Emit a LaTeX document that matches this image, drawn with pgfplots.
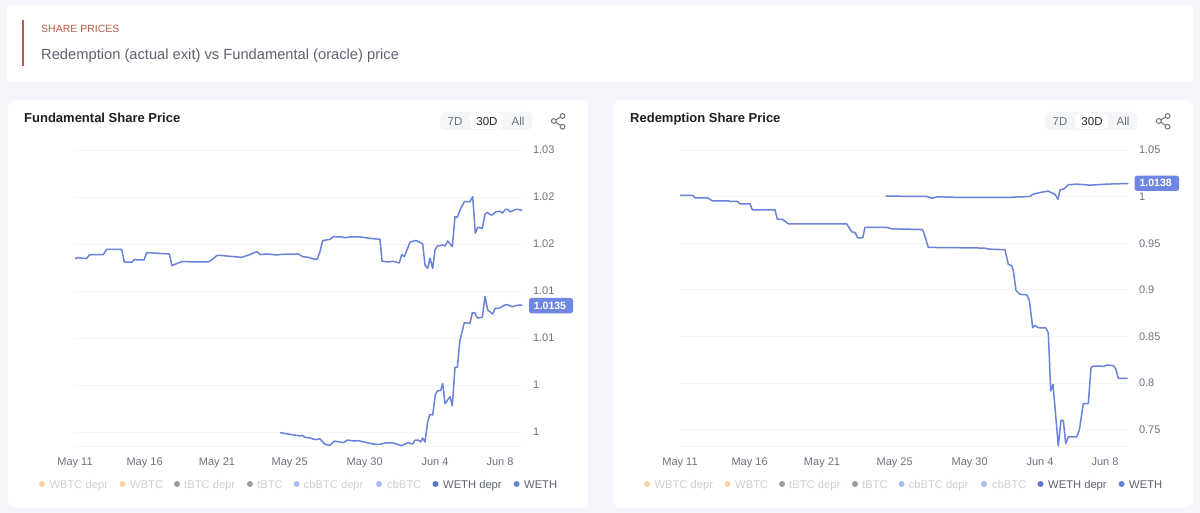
\documentclass[border=0pt]{standalone}
\usepackage{pgfplots}
\pgfplotsset{compat=1.18}
\usepackage{fontspec}
\setmainfont{Liberation Sans}
\definecolor{pagebg}{HTML}{F4F6FB}
\definecolor{gridc}{HTML}{F5F6F9}
\definecolor{linec}{HTML}{6A82DA}
\definecolor{tagc}{HTML}{6F87E2}
\definecolor{tickc}{HTML}{6E7280}
\definecolor{fadec}{HTML}{CDCFD4}
\definecolor{activec}{HTML}{5E6370}
\definecolor{redc}{HTML}{BC5A45}
\definecolor{pillc}{HTML}{F3F5F9}
\newcommand{\fs}[1]{\fontsize{#1}{#1}\selectfont}
\pgfplotstableread{
x y
75 1.01844
78.3 1.01855
83.3 1.01848
86.7 1.01848
89.3 1.01883
93.3 1.01887
103.3 1.01887
106.7 1.01943
121.7 1.01943
124.3 1.01809
131.7 1.01805
134 1.01833
144 1.01830
146.7 1.01908
169.3 1.01894
172 1.01770
176.7 1.01791
181.7 1.01812
208.3 1.01809
213.3 1.01844
216.7 1.01876
220 1.01879
241.7 1.01858
250 1.01887
255 1.01911
257.3 1.01918
260 1.01887
266.7 1.01894
276.7 1.01883
281.7 1.01890
298.3 1.01894
302.7 1.01865
308.3 1.01858
315 1.01837
317.3 1.01840
320 1.01919
322.7 1.02036
330 1.02050
333.3 1.02078
341.7 1.02075
345 1.02067
350 1.02075
360 1.02075
370 1.02060
380 1.02050
382 1.01816
388.3 1.01809
393.3 1.01816
399.3 1.01798
401.7 1.01887
404.3 1.01865
410 1.02018
415 1.02036
417.3 1.02032
422.7 1.02000
425 1.01777
427.7 1.01741
430 1.01848
432.7 1.01741
435 1.01936
437.3 1.01979
443.3 1.01989
445 1.01979
447.7 1.02032
452.3 1.01972
455 1.02291
457.3 1.02284
460 1.02362
464.3 1.02450
470 1.02450
472.7 1.02504
475.3 1.02114
477.7 1.02177
482.3 1.02167
485 1.02319
487.7 1.02337
490 1.02312
492.3 1.02309
496 1.02344
500 1.02348
502.3 1.02330
505.7 1.02369
507.7 1.02369
510 1.02341
515 1.02365
518.3 1.02369
522.3 1.02355
}\fundDepr
\pgfplotstableread{
x y
280 0.99993
290 0.99975
300 0.99958
302.3 0.99965
305 0.99943
310 0.99936
315 0.99919
320 0.99926
325 0.99869
330 0.99858
334.3 0.99904
343.3 0.99887
347.7 0.99915
353.3 0.99904
358.3 0.99908
366.7 0.99887
375 0.99869
380 0.99869
385 0.99883
393.3 0.99883
401.7 0.99855
408.3 0.99887
412.7 0.99872
415 0.99912
418.3 0.99915
420.7 0.99894
422.7 0.99936
425 0.99894
427.7 1.00110
430 1.00188
432.7 1.00181
435.3 1.00394
437.7 1.00440
440.7 1.00440
442.7 1.00518
445 1.00302
450 1.00376
452.3 1.00280
455 1.00688
457.3 1.00688
460 1.00979
464.3 1.01163
470 1.01156
472.3 1.01270
475 1.01266
477.3 1.01213
482.3 1.01220
485 1.01440
487.7 1.01298
492.7 1.01255
495 1.01316
499 1.01316
505 1.01351
507.3 1.01355
512.3 1.01333
517.3 1.01348
522.3 1.01351
}\fundWeth
\pgfplotstableread{
x y
680 1.00123
692.7 1.00123
695 0.99873
707.3 0.99873
712.3 0.99552
728.3 0.99552
730 0.99480
737.3 0.99480
740 0.99230
750 0.99230
752.3 0.98587
775 0.98587
777.3 0.97587
782.7 0.97551
788.3 0.97087
846.7 0.97087
851.7 0.96229
855 0.96158
857.7 0.95586
862.7 0.95586
865 0.96694
886.7 0.96694
891.7 0.96551
901.7 0.96515
921.7 0.96479
923.3 0.96301
928.3 0.94550
960 0.94514
985 0.94478
988.3 0.94371
1005 0.94300
1008.3 0.92728
1011.7 0.92585
1013.3 0.92085
1016 0.89941
1020 0.89513
1026.7 0.89477
1029.3 0.88869
1032.7 0.85940
1035 0.86190
1038.3 0.85940
1046 0.85904
1048.3 0.85368
1050.7 0.79152
1053 0.79866
1058.3 0.73257
1061 0.76008
1063.3 0.76008
1065.7 0.73507
1068.3 0.74221
1076.7 0.74221
1079.3 0.74936
1083.3 0.77794
1088.3 0.77794
1091 0.81653
1093.3 0.81831
1104 0.81795
1106.7 0.81938
1113.3 0.81867
1115.7 0.81545
1118.3 0.80509
1127.7 0.80509
}\redDepr
\pgfplotstableread{
x y
885.7 1.00052
926.7 1.00016
931.7 0.99837
938.3 0.99980
960 0.99909
973.3 0.99909
1006.7 0.99909
1015 0.99945
1030 1.00016
1032.3 1.00230
1040 1.00445
1048.3 1.00588
1055 1.00230
1058 0.99730
1060 1.00731
1064 1.00838
1068.3 1.01267
1076.7 1.01338
1090 1.01231
1106.7 1.01338
1128.3 1.01409
}\redWeth
\pgfplotsset{panel/.style={
  scale only axis, height=296pt, clip=false,
  axis x line*=bottom, axis y line*=right,
  x axis line style={draw=gridc,-}, y axis line style={draw=none,-},
  major tick length=0pt, ymajorgrids, grid style={draw=gridc,line width=0.8pt},
  tick label style={font=\fs{11}, text=tickc},
  xticklabel style={yshift=-8pt},
  yticklabel style={xshift=7.5pt},
}, pl/.style={draw=linec,line width=1.5pt,line join=round,mark=none}}
\newcommand{\cardparts}[1]{%
  \begin{scope}[shift={(#1,0)}]
  \fill[pillc,rounded corners=5pt] (440,112) rectangle (532,130);
  \fill[white,rounded corners=4pt] (470,113) rectangle (503,129);
  \node[anchor=base,font=\fs{11.5},text=tickc] at (455,125.2) {7D};
  \node[anchor=base,font=\fs{11.5},text=black!85] at (487,125.2) {30D};
  \node[anchor=base,font=\fs{11.5},text=tickc] at (518,125.2) {All};
  \draw[tickc,line width=1pt] (553.8,121) -- (562.6,116) (553.8,121) -- (562.6,126.7);
  \draw[tickc,line width=1pt,fill=white] (553.8,121) circle (2.4) (562.6,116) circle (2.4) (562.6,126.7) circle (2.4);
  \foreach \dx/\tx/\dc/\tc/\lab in {42/49.4/F6D3A4/fadec/WBTC depr,122.5/130/F6D3A4/fadec/WBTC,177/184/9B9B9B/fadec/tBTC depr,250/257/9B9B9B/fadec/tBTC,296.6/303.5/A6BCF2/fadec/cbBTC depr,379/387/A6BCF2/fadec/cbBTC,435.5/443/5F76CF/activec/WETH depr,516.6/524/6A82DA/activec/WETH}{
    \definecolor{dotc}{HTML}{\dc}
    \fill[dotc] (\dx,484) circle (3);
    \node[anchor=base west,inner sep=0pt,font=\fs{11.2},text=\tc] at (\tx,488.3) {\lab};
  }
  \end{scope}%
}
\begin{document}
\begin{tikzpicture}
\useasboundingbox (0,0) rectangle (1200pt,513pt);
\begin{scope}[x=1pt,y=-1pt,yshift=513pt]
  \fill[pagebg] (0,0) rectangle (1200,513);
  \fill[white,rounded corners=2pt] (7,5) rectangle (1193,82);
  \fill[redc] (22.3,20) rectangle (24.3,66);
  \node[anchor=base west,inner sep=0pt,font=\fs{10.5},text=redc] at (41,33) {SHARE PRICES};
  \node[anchor=base west,inner sep=0pt,font=\fs{14.7},text=activec] at (41,60) {Redemption (actual exit) vs Fundamental (oracle) price};
  \fill[white,rounded corners=8pt] (8,100) rectangle (588,508);
  \fill[white,rounded corners=8pt] (613,100) rectangle (1193,508);
  \node[anchor=base west,inner sep=0pt,font=\fs{13}\bfseries,text=black!88] at (24,122.8) {Fundamental Share Price};
  \node[anchor=base west,inner sep=0pt,font=\fs{13}\bfseries,text=black!88] at (630,122.8) {Redemption Share Price};
  \cardparts{0}
  \cardparts{605}
\end{scope}
\begin{axis}[panel, at={(75pt,67pt)}, anchor=south west, width=447pt,
  xmin=75, xmax=522, ymin=0.99851, ymax=1.03,
  xtick={75,144.6,217,289.7,364.7,435,500},
  xticklabels={May 11,May 16,May 21,May 25,May 30,Jun 4,Jun 8},
  ytick={1,1.005,1.01,1.015,1.02,1.025,1.03},
  yticklabels={1,1,1.01,1.01,1.02,1.02,1.03}]
  \addplot[pl] table[x=x,y=y] {\fundDepr};
  \addplot[pl] table[x=x,y=y] {\fundWeth};
\end{axis}
\begin{axis}[panel, at={(680pt,67pt)}, anchor=south west, width=448pt,
  xmin=680, xmax=1128, ymin=0.7325, ymax=1.05,
  xtick={680,749.6,822,894.7,969.7,1040,1105},
  xticklabels={May 11,May 16,May 21,May 25,May 30,Jun 4,Jun 8},
  ytick={0.75,0.8,0.85,0.9,0.95,1,1.05},
  yticklabels={0.75,0.8,0.85,0.9,0.95,1,1.05}]
  \addplot[pl] table[x=x,y=y] {\redDepr};
  \addplot[pl] table[x=x,y=y] {\redWeth};
\end{axis}
\begin{scope}[x=1pt,y=-1pt,yshift=513pt]
  \fill[tagc,rounded corners=2.5pt] (529,298) rectangle (573,313.3);
  \node[font=\fs{10.5}\bfseries,text=white] at (550,305.6) {1.0135};
  \fill[tagc,rounded corners=2.5pt] (1134.5,175.7) rectangle (1179,191);
  \node[font=\fs{10.5}\bfseries,text=white] at (1155.7,183.3) {1.0138};
\end{scope}
\end{tikzpicture}
\end{document}
